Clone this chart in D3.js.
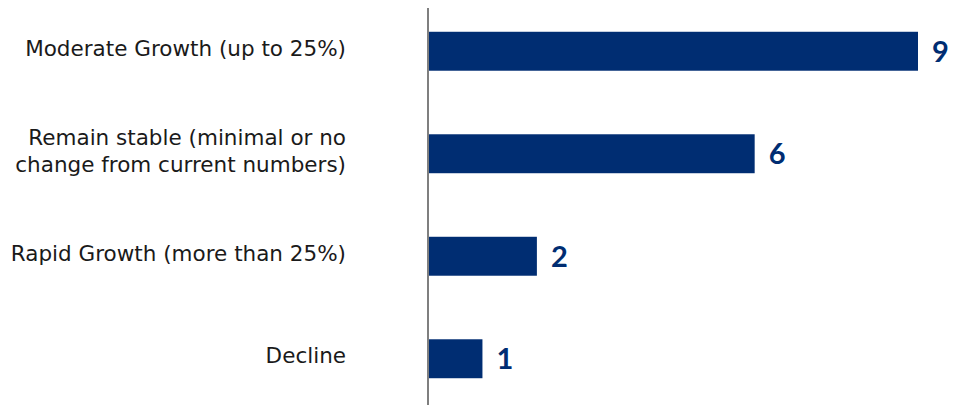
<!DOCTYPE html>
<html>
<head>
<meta charset="utf-8">
<script src="https://cdn.jsdelivr.net/npm/d3@7"></script>
<style>
  body { margin: 0; background: #fff; }
</style>
</head>
<body>
<svg id="chart"></svg>
<script>
const categories = [
    ["Moderate Growth (up to 25%)"],
    ["Remain stable (minimal or no", "change from current numbers)"],
    ["Rapid Growth (more than 25%)"],
    ["Decline"]
];
const values = [9, 6, 2, 1];

const W = 964, H = 405;
const x0 = 428;
const barColor = "#002d72";

const svg = d3.select("#chart").attr("width", W).attr("height", H);

const keys = categories.map((c, i) => i);

const y = d3.scaleBand()
    .domain(keys)
    .range([0, 410])
    .paddingInner(0.62)
    .paddingOuter(0.31);

const x = d3.scaleLinear()
    .domain([0, 9])
    .range([x0, 918]);

// bars
svg.selectAll("rect.bar")
    .data(values)
    .enter()
    .append("rect")
    .attr("class", "bar")
    .attr("x", x(0))
    .attr("y", (d, i) => y(i))
    .attr("width", d => x(d) - x(0))
    .attr("height", y.bandwidth())
    .attr("fill", barColor);

// value labels
svg.selectAll("text.val")
    .data(values)
    .enter()
    .append("text")
    .attr("class", "val")
    .attr("x", d => x(d) + 14)
    .attr("y", (d, i) => y(i) + y.bandwidth() / 2)
    .attr("dy", "0.36em")
    .style("font-family", "Lato, sans-serif")
    .style("font-weight", "bold")
    .style("font-size", "29px")
    .attr("fill", barColor)
    .text(d => d);

// category labels
const lineH = 27;
svg.selectAll("text.cat")
    .data(categories)
    .enter()
    .append("text")
    .attr("class", "cat")
    .attr("x", 346)
    .attr("text-anchor", "end")
    .style("font-family", "'DejaVu Sans', sans-serif")
    .style("font-size", "21.5px")
    .attr("fill", "#1a1a1a")
    .each(function (lines, i) {
        const cy = y(i) + y.bandwidth() / 2 - 3;
        const top = cy - (lines.length - 1) * lineH / 2;
        d3.select(this).selectAll("tspan")
            .data(lines)
            .enter()
            .append("tspan")
            .attr("x", 346)
            .attr("y", (l, j) => top + j * lineH)
            .attr("dy", "0.36em")
            .text(l => l);
    });

// axis line
svg.append("line")
    .attr("x1", x0).attr("x2", x0)
    .attr("y1", 8).attr("y2", H)
    .attr("stroke", "#7f7f7f")
    .attr("stroke-width", 2);
</script>
</body>
</html>
